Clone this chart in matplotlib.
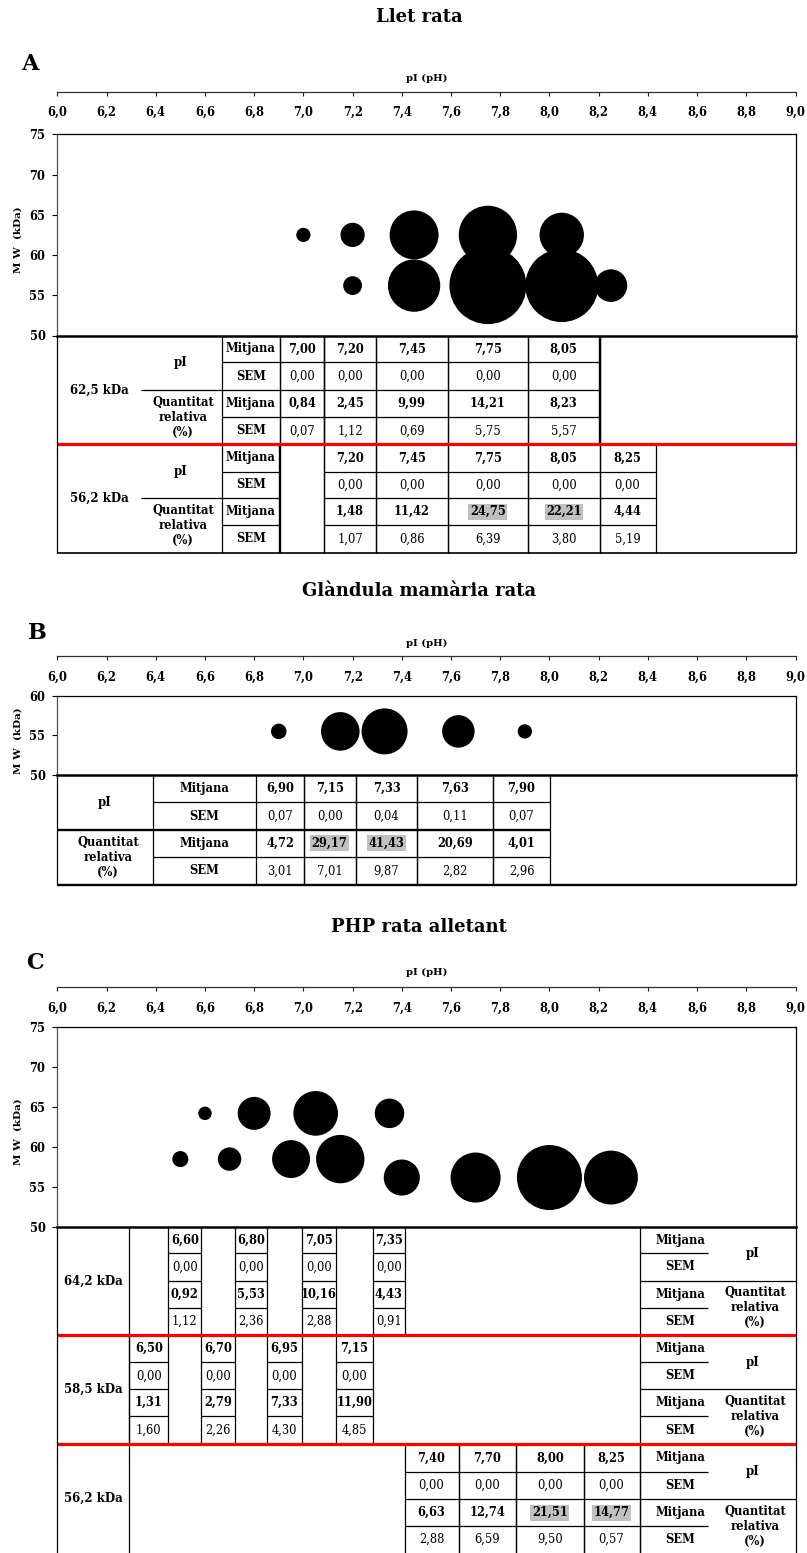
import matplotlib
matplotlib.use("Agg")
import matplotlib.pyplot as plt
from matplotlib.ticker import FixedLocator, FixedFormatter

W, H, DPI = 807, 1553, 100
FONT = "DejaVu Serif"
plt.rcParams["font.family"] = FONT

# ---------------- data ----------------
PI_TICKS = [6.0, 6.2, 6.4, 6.6, 6.8, 7.0, 7.2, 7.4, 7.6, 7.8, 8.0, 8.2, 8.4, 8.6, 8.8, 9.0]

# A: Llet rata (two MW rows)
A_MW = [62.5, 56.2]
A_PI = [[7.00, 7.20, 7.45, 7.75, 8.05],
        [7.20, 7.45, 7.75, 8.05, 8.25]]
A_PI_SEM = [[0.00, 0.00, 0.00, 0.00, 0.00],
            [0.00, 0.00, 0.00, 0.00, 0.00]]
A_QTY = [[0.84, 2.45, 9.99, 14.21, 8.23],
         [1.48, 11.42, 24.75, 22.21, 4.44]]
A_QTY_SEM = [[0.07, 1.12, 0.69, 5.75, 5.57],
             [1.07, 0.86, 6.39, 3.80, 5.19]]

# B: Glandula mamaria rata (one MW row)
B_MW = 55.5
B_PI = [6.90, 7.15, 7.33, 7.63, 7.90]
B_PI_SEM = [0.07, 0.00, 0.04, 0.11, 0.07]
B_QTY = [4.72, 29.17, 41.43, 20.69, 4.01]
B_QTY_SEM = [3.01, 7.01, 9.87, 2.82, 2.96]

# C: PHP rata alletant (three MW rows)
C_MW = [64.2, 58.5, 56.2]
C_PI = [[6.60, 6.80, 7.05, 7.35],
        [6.50, 6.70, 6.95, 7.15],
        [7.40, 7.70, 8.00, 8.25]]
C_PI_SEM = [[0.00, 0.00, 0.00, 0.00],
            [0.00, 0.00, 0.00, 0.00],
            [0.00, 0.00, 0.00, 0.00]]
C_QTY = [[0.92, 5.53, 10.16, 4.43],
         [1.31, 2.79, 7.33, 11.90],
         [6.63, 12.74, 21.51, 14.77]]
C_QTY_SEM = [[1.12, 2.36, 2.88, 0.91],
             [1.60, 2.26, 4.30, 4.85],
             [2.88, 6.59, 9.50, 0.57]]

# ---------------- helpers ----------------
def fmt(v, nd=2):
    return f"{v:.{nd}f}".replace(".", ",")


def frac(x0, y0, x1, y1):
    return [x0 / W, 1 - y1 / H, (x1 - x0) / W, (y1 - y0) / H]


X0, X1 = 57.3, 795.5
fig = plt.figure(figsize=(W / DPI, H / DPI), dpi=DPI)
fig.patch.set_facecolor("white")

ov = fig.add_axes([0, 0, 1, 1], zorder=10)
ov.set_xlim(0, W)
ov.set_ylim(H, 0)
ov.axis("off")

LW = 0.9
THICK = 1.7
TICK_SIZE = 8.3


def hl(y, x0, x1, lw=LW, c="k"):
    ov.plot([x0, x1], [y, y], color=c, lw=lw, solid_capstyle="butt")


def vl(x, y0, y1, lw=LW, c="k"):
    ov.plot([x, x], [y0, y1], color=c, lw=lw, solid_capstyle="butt")


def put(x, y, s, size=8.3, bold=True, hi=False, **kw):
    box = None
    if hi:
        box = dict(boxstyle="square,pad=0.12", fc="#c0c0c0", ec="none")
    ov.text(x, y, s, ha="center", va="center", fontsize=size,
            fontweight="bold" if bold else "normal", bbox=box, **kw)


def top_scale(y):
    ax = fig.add_axes(frac(X0, y - 1, X1, y))
    ax.set_xlim(6, 9)
    ax.set_ylim(0, 1)
    for s in ("top", "left", "right"):
        ax.spines[s].set_visible(False)
    ax.spines["bottom"].set_linewidth(0.9)
    ax.spines["bottom"].set_color("#303030")
    ax.set_yticks([])
    ax.xaxis.set_major_locator(FixedLocator(PI_TICKS))
    ax.xaxis.set_major_formatter(FixedFormatter([fmt(t, 1) for t in PI_TICKS]))
    ax.tick_params(axis="x", direction="out", length=3, width=0.8,
                   pad=7.5, labelsize=TICK_SIZE, colors="#202020")
    for lab in ax.get_xticklabels():
        lab.set_fontweight("bold")
        lab.set_color("black")
    ax.patch.set_visible(False)


def bubble_axes(ytop, ybot, ymax, yticks):
    ax = fig.add_axes(frac(X0, ytop, X1, ybot))
    ax.set_xlim(6, 9)
    ax.set_ylim(50, ymax)
    ax.set_xticks([])
    ax.set_yticks(yticks)
    ax.set_yticklabels([str(t) for t in yticks])
    ax.tick_params(axis="y", direction="out", length=3.5, width=0.8,
                   pad=5, labelsize=TICK_SIZE)
    for lab in ax.get_yticklabels():
        lab.set_fontweight("bold")
    ax.spines["left"].set_color("#505050")
    ax.spines["left"].set_linewidth(0.9)
    ax.spines["top"].set_linewidth(0.9)
    ax.spines["right"].set_linewidth(0.9)
    ax.spines["bottom"].set_linewidth(1.8)
    ov.text(18.5, (ytop + ybot) / 2 + 5, "M W  (kDa)", rotation=90,
            ha="center", va="center", fontsize=7.5, fontweight="bold")
    return ax


def bubbles(ax, xs, ys, vals, vmax, dmax_px):
    sizes = [((dmax_px * (v / vmax) ** 0.5) * 72 / DPI) ** 2 for v in vals]
    ax.scatter(xs, ys, s=sizes, c="black", edgecolors="none", clip_on=False, zorder=3)


def header(title, ty, letter, lx, ly, label_y, axis_y):
    put(419, ty, title, size=13)
    put(lx, ly, letter, size=16)
    put(427, label_y, "pI (pH)", size=7.2)
    top_scale(axis_y)


def top_two(groups):
    flat = sorted([v for g in groups for v in g], reverse=True)
    return set(flat[:2])


def data_cells(cols, rows, pis, psems, qtys, qsems, hi, mid_lw=LW):
    mids = [(rows[i] + rows[i + 1]) / 2 for i in range(4)]
    for (x0, x1), p, ps, q, qs in zip(cols, pis, psems, qtys, qsems):
        vl(x0, rows[0], rows[4])
        vl(x1, rows[0], rows[4])
        hl(rows[1], x0, x1)
        hl(rows[2], x0, x1, lw=mid_lw)
        hl(rows[3], x0, x1)
        cx = (x0 + x1) / 2
        put(cx, mids[0], fmt(p))
        put(cx, mids[1], fmt(ps), bold=False)
        put(cx, mids[2], fmt(q), hi=q in hi)
        put(cx, mids[3], fmt(qs), bold=False)


def quant_label(x, yc, size=8.3):
    for dy, s in ((-15, "Quantitat"), (0, "relativa"), (15, "(%)")):
        put(x, yc + dy, s, size=size)


# ================= Panel A =================
header("Llet rata", 17, "A", 29.5, 63.5, 78, 91.7)
axA = bubble_axes(134.3, 335.5, 75, [50, 55, 60, 65, 70, 75])
a_max = max(max(r) for r in A_QTY)
for mw, pis, q in zip(A_MW, A_PI, A_QTY):
    bubbles(axA, pis, [mw] * len(pis), q, a_max, 77)

A_ROWS = [[335.5, 362.3, 390.0, 417.3, 444.3],
          [444.3, 471.7, 498.3, 525.0, 552.7]]
A_EDGES = [280, 324, 376, 447.5, 528, 599.5, 655.5]
a_cols = [list(zip(A_EDGES[0:5], A_EDGES[1:6])),
          list(zip(A_EDGES[1:6], A_EDGES[2:7]))]
a_hi = top_two(A_QTY)
for k in range(2):
    r = A_ROWS[k]
    data_cells(a_cols[k], r, A_PI[k], A_PI_SEM[k], A_QTY[k], A_QTY_SEM[k], a_hi)
    vl(222, r[0], r[4])
    vl(280, r[0], r[4], lw=THICK if k == 1 else LW)
    vl(324, r[0], r[4])
    hl(r[1], 222, 280)
    hl(r[2], 140.6, 280)
    hl(r[3], 222, 280)
    put(99, (r[0] + r[4]) / 2, fmt(A_MW[k], 1) + " kDa", size=8.5)
    put(181, (r[0] + r[2]) / 2, "pI", size=8.5)
    quant_label(183, (r[2] + r[4]) / 2)
    for i, s in enumerate(("Mitjana", "SEM", "Mitjana", "SEM")):
        put(251, (r[i] + r[i + 1]) / 2, s, size=8.3)
vl(599.5, A_ROWS[0][0], A_ROWS[0][4], lw=THICK)
hl(444.3, X0, X1, lw=2.3, c="#ff0000")
vl(X0, 335.5, 552.7)
vl(X1, 335.5, 552.7)
hl(552.7, X0, X1, lw=1.2)

# ================= Panel B =================
header("Glàndula mamària rata", 591, "B", 37, 633, 643.3, 656)
axB = bubble_axes(695.7, 775, 60, [50, 55, 60])
bubbles(axB, B_PI, [B_MW] * len(B_PI), B_QTY, max(B_QTY), 46)

B_ROWS = [775, 802.3, 830, 856.7, 885]
B_EDGES = [256.4, 303.7, 355.6, 417.4, 493, 550]
b_hi = top_two([B_QTY])
data_cells(list(zip(B_EDGES[:-1], B_EDGES[1:])), B_ROWS, B_PI, B_PI_SEM,
           B_QTY, B_QTY_SEM, b_hi, mid_lw=THICK)
vl(153, B_ROWS[0], B_ROWS[4])
hl(B_ROWS[1], 153, 256.4)
hl(B_ROWS[2], X0, 256.4, lw=THICK)
hl(B_ROWS[3], 153, 256.4)
put(105, (B_ROWS[0] + B_ROWS[2]) / 2, "pI", size=8.5)
quant_label(108, (B_ROWS[2] + B_ROWS[4]) / 2)
for i, s in enumerate(("Mitjana", "SEM", "Mitjana", "SEM")):
    put(204, (B_ROWS[i] + B_ROWS[i + 1]) / 2, s, size=8.3)
vl(X0, 775, 885)
vl(X1, 775, 885)
hl(885, X0, X1, lw=THICK)

# ================= Panel C =================
header("PHP rata alletant", 926.7, "C", 35, 963, 972.7, 987.3)
axC = bubble_axes(1026.7, 1227.3, 75, [50, 55, 60, 65, 70, 75])
c_max = max(max(r) for r in C_QTY)
for mw, pis, q in zip(C_MW, C_PI, C_QTY):
    bubbles(axC, pis, [mw] * len(pis), q, c_max, 65)

C_ROWS = [[1227.3, 1253.3, 1280.7, 1307.5, 1335.0],
          [1335.0, 1362.3, 1389.3, 1416.0, 1444.3],
          [1444.3, 1471.7, 1499.3, 1526.0, 1553.0]]
C_COLS = [[(168.4, 201.3), (234.8, 266.6), (301.6, 336.1), (373.1, 404.5)],
          [(129.3, 168.4), (201.3, 234.8), (266.6, 301.6), (336.1, 373.1)],
          [(404.5, 458.5), (458.5, 516.1), (516.1, 583.5), (583.5, 639.6)]]
c_hi = top_two(C_QTY)
for k in range(3):
    r = C_ROWS[k]
    data_cells(C_COLS[k], r, C_PI[k], C_PI_SEM[k], C_QTY[k], C_QTY_SEM[k], c_hi)
    hl(r[1], 639.6, 708)
    hl(r[2], 639.6, X1)
    hl(r[3], 639.6, 708)
    put(93.3, (r[0] + r[4]) / 2, fmt(C_MW[k], 1) + " kDa", size=8.5)
    put(753, (r[0] + r[2]) / 2, "pI", size=8.5)
    quant_label(755, (r[2] + r[4]) / 2)
    for i, s in enumerate(("Mitjana", "SEM", "Mitjana", "SEM")):
        put(680, (r[i] + r[i + 1]) / 2, s, size=8.3)
vl(129.3, 1227.3, H)
vl(639.6, 1227.3, H)
hl(1335.0, X0, X1, lw=2.3, c="#ff0000")
hl(1444.3, X0, X1, lw=2.3, c="#ff0000")
vl(X0, 1227.3, H)
vl(X1, 1227.3, H)

fig.savefig("out.png", dpi=DPI, facecolor="white")
